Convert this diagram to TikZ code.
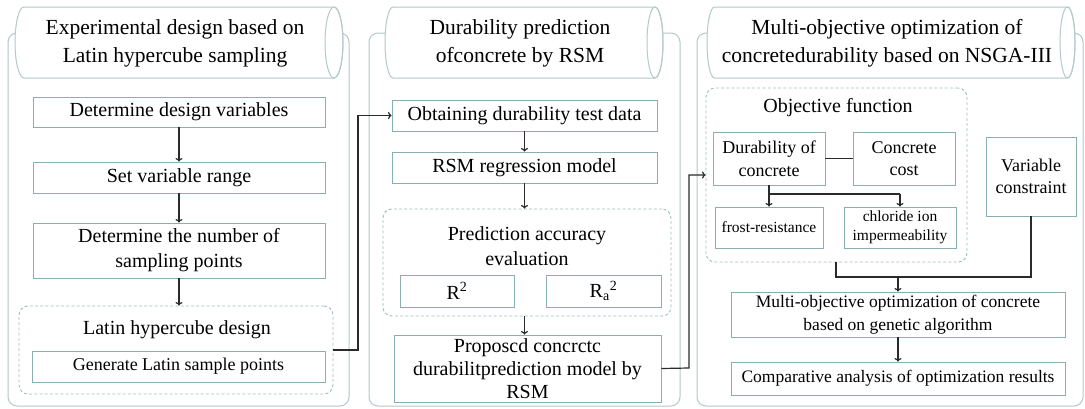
\documentclass[tikz,border=0pt]{standalone}
\usepackage{fontspec}
\setmainfont{Liberation Serif}
\usetikzlibrary{arrows.meta}
\definecolor{boxc}{HTML}{88AFB1}
\definecolor{panelc}{HTML}{B4C9CA}
\definecolor{dashc}{HTML}{A6BEC2}
\definecolor{connc}{HTML}{2A2A2A}
\newcommand{\fsTitle}{\fontsize{21.5}{28}\selectfont}
\newcommand{\fsMain}{\fontsize{20}{25}\selectfont}
\newcommand{\fsMid}{\fontsize{18}{22.5}\selectfont}
\newcommand{\fsSmall}{\fontsize{15.5}{19.5}\selectfont}
\begin{document}
\begin{tikzpicture}[x=1pt,y=-1pt,
  box/.style={draw=boxc, line width=0.9pt, fill=white, align=center, inner sep=0pt, text=black},
  panel/.style={draw=panelc, line width=1pt, rounded corners=9pt, inner sep=0pt},
  dashbox/.style={draw=dashc, line width=0.9pt, dash pattern=on 3pt off 2.2pt, rounded corners=9pt, inner sep=0pt},
  cyl/.style={draw=panelc, line width=1pt, fill=white},
  label/.style={align=center, inner sep=0pt, text=black},
  conn/.style={draw=connc, line width=1.2pt},
  arr/.style={conn, -{To[length=3.5pt,width=7pt]}}
]
\useasboundingbox (0,0) rectangle (1085,408);
\fill[white] (0,0) rectangle (1085,408);

% ---------- panels ----------
\node[panel, minimum width=341pt, minimum height=373pt] (P1) at (178.5,219.5) {};
\node[panel, minimum width=311pt, minimum height=373pt] (P2) at (524.5,219.5) {};
\node[panel, minimum width=386pt, minimum height=373pt] (P3) at (890,219.5) {};

% ---------- cylinders ----------
\draw[cyl] (24,7) -- (334,7) arc[start angle=-90, end angle=90, x radius=9, y radius=35.5]
  -- (24,78) arc[start angle=90, end angle=270, x radius=9, y radius=35.5] -- cycle;
\draw[panelc, line width=1pt] (334,42.5) ellipse[x radius=9, y radius=35.5];
\node[label, font=\fsTitle] (T1) at (175,43) {Experimental design based on\\Latin hypercube sampling};
\draw[cyl] (393,7) -- (655,7) arc[start angle=-90, end angle=90, x radius=8, y radius=35.5]
  -- (393,78) arc[start angle=90, end angle=270, x radius=8, y radius=35.5] -- cycle;
\draw[panelc, line width=1pt] (655,42.5) ellipse[x radius=8, y radius=35.5];
\node[label, font=\fsTitle] (T2) at (520,43) {Durability prediction\\ofconcrete by RSM};
\draw[cyl] (714.5,7) -- (1067.5,7) arc[start angle=-90, end angle=90, x radius=7.5, y radius=35.5]
  -- (714.5,78) arc[start angle=90, end angle=270, x radius=7.5, y radius=35.5] -- cycle;
\draw[panelc, line width=1pt] (1067.5,42.5) ellipse[x radius=7.5, y radius=35.5];
\node[label, font=\fsTitle] (T3) at (887,43) {Multi-objective optimization of\\concretedurability based on NSGA-III};

% ---------- panel 1 ----------
\node[box, font=\fsMain, minimum width=292pt, minimum height=30pt] (b11) at (179,112) {Determine design variables};
\node[box, font=\fsMain, minimum width=292pt, minimum height=31pt] (b12) at (179,177.5) {Set variable range};
\node[box, font=\fsMain, minimum width=292pt, minimum height=55pt] (b13) at (179,250.5) {Determine the number of\\sampling points};
\node[dashbox, minimum width=314pt, minimum height=88pt] (d1) at (176,350) {};
\node[label, font=\fsMain] (t1) at (177,330) {Latin hypercube design};
\node[box, font=\fsMid, minimum width=293pt, minimum height=31pt] (b14) at (178.5,366.5) {Generate Latin sample points};

\draw[arr] (b11.south) -- (b12.north);
\draw[arr] (b12.south) -- (b13.north);
\draw[arr] (b13.south) -- (b13.south |- d1.north);

% ---------- panel 2 ----------
\node[box, font=\fsMain, minimum width=265pt, minimum height=31pt] (b21) at (524.5,115.5) {Obtaining durability test data};
\node[box, font=\fsMain, minimum width=265pt, minimum height=31pt] (b22) at (524.5,167.5) {RSM regression model};
\node[dashbox, minimum width=288pt, minimum height=107pt] (d2) at (527,262.5) {};
\node[label, font=\fsMain] (t2) at (527,246) {Prediction accuracy\\evaluation};
\node[box, font=\fsMain, minimum width=114pt, minimum height=32pt] (r1) at (457,291) {R\textsuperscript{2}};
\node[box, font=\fsMain, minimum width=115pt, minimum height=32pt] (r2) at (603.5,291) {R\textsubscript{a}\textsuperscript{2}};
\node[box, font=\fontsize{20}{23}\selectfont, minimum width=267pt, minimum height=67pt] (b23) at (527.5,368.5) {Proposcd concrctc\\durabilitprediction model by\\RSM};

\draw[arr] (b21.south) -- (b22.north);
\draw[arr] (b22.south) -- (b22.south |- d2.north);
\draw[arr] (b22.south |- d2.south) -- (b22.south |- b23.north);

% ---------- panel 3 ----------
\node[dashbox, minimum width=261pt, minimum height=174pt] (d3) at (836.5,175) {};
\node[label, font=\fsMain] (t3) at (838,108) {Objective function};
\node[box, font=\fsMid, minimum width=112pt, minimum height=53pt] (c1) at (769,158.5) {Durability of\\concrete};
\node[box, font=\fsMid, minimum width=102pt, minimum height=53pt] (c2) at (904,158.5) {Concrete\\cost};
\node[box, font=\fsSmall, minimum width=108pt, minimum height=41pt] (f1) at (769,227.5) {frost-resistance};
\node[box, font=\fsSmall, minimum width=112pt, minimum height=41pt] (f2) at (900,227.5) {chloride ion\\impermeability};
\node[box, font=\fsMid, minimum width=90pt, minimum height=79pt] (v1) at (1031,176.5) {Variable\\constraint};
\node[box, font=\fontsize{17.5}{23}\selectfont, minimum width=334pt, minimum height=45pt] (m1) at (898,314.5) {Multi-objective optimization of concrete\\based on genetic algorithm};
\node[box, font=\fontsize{17.5}{22}\selectfont, minimum width=334pt, minimum height=33pt] (m2) at (898,378.5) {Comparative analysis of optimization results};

\coordinate (br) at (769,194);
\coordinate (mg) at (836,277);
\draw[conn] (c1.east) -- (c2.west);
\draw[conn] (c1.south) -- (br) -- (br -| f2.north);
\draw[arr] (br) -- (f1.north);
\draw[arr] (br -| f2.north) -- (f2.north);
\draw[conn] (mg |- d3.south) -- (mg) -- (mg -| v1.south) -- (v1.south);
\draw[arr] (mg -| m1.north) -- (m1.north);
\draw[arr] (m1.south) -- (m2.north);

% ---------- cross-panel connectors ----------
\coordinate (k1) at (358,350);
\coordinate (k2) at (689,368);
\draw[arr] (d1.east) -- (k1) -- (k1 |- b21.west) -- (b21.west);
\draw[arr] (b23.east) -- (k2) -- (k2 |- d3.west) -- (d3.west);
\end{tikzpicture}
\end{document}
